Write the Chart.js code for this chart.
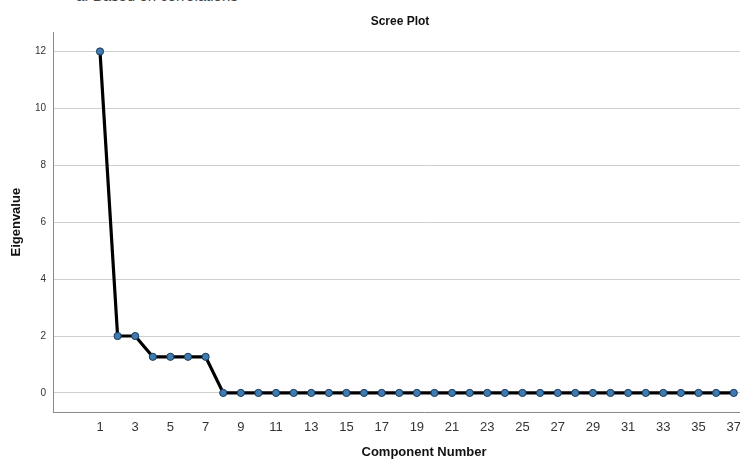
<!DOCTYPE html>
<html lang="en">
<head>
    <meta charset="UTF-8">
    <title>Scree Plot</title>
    <script src="https://cdn.jsdelivr.net/npm/chart.js"></script>
    <style>
        html, body { margin: 0; padding: 0; background: #fff; overflow: hidden; }
        .pagina { position: relative; width: 740px; height: 464px; overflow: hidden; }
        .nota { position: absolute; left: 76px; top: -12px; font: 15px Arial, "Liberation Sans", sans-serif; color: #444; line-height: 15px; white-space: nowrap; }
        .grafico { position: absolute; left: 0; top: 0; width: 800px; height: 464px; }
    </style>
</head>
<body>
<div class="pagina">
    <div class="nota">a. Based on correlations</div>
    <div class="grafico"><canvas id="scree"></canvas></div>
</div>
<script>
    // dados
    var componentes = [];
    for (var c = 1; c <= 37; c++) componentes.push(c);
    var autovalores = [12, 2, 2, 1.27, 1.27, 1.27, 1.27,
        0, 0, 0, 0, 0, 0, 0, 0, 0, 0,
        0, 0, 0, 0, 0, 0, 0, 0, 0, 0,
        0, 0, 0, 0, 0, 0, 0, 0, 0, 0];
    var ticksX = [1, 3, 5, 7, 9, 11, 13, 15, 17, 19, 21, 23, 25, 27, 29, 31, 33, 35, 37];
    var ticksY = [0, 2, 4, 6, 8, 10, 12];

    var fonte = 'Arial, "Liberation Sans", sans-serif';

    var pontos = componentes.map(function (c, i) {
        return { x: c, y: autovalores[i] };
    });

    new Chart(document.getElementById('scree'), {
        type: 'line',
        data: {
            datasets: [{
                label: 'Eigenvalue',
                data: pontos,
                borderColor: '#000',
                borderWidth: 3.2,
                tension: 0,
                pointRadius: 3.6,
                pointBackgroundColor: '#3d7bb2',
                pointBorderColor: '#1c3a57',
                pointBorderWidth: 1,
                fill: false
            }]
        },
        options: {
            responsive: true,
            maintainAspectRatio: false,
            animation: false,
            layout: { padding: 0 },
            plugins: {
                legend: { display: false },
                tooltip: { enabled: false },
                title: {
                    display: true,
                    text: 'Scree Plot',
                    color: '#111',
                    font: { family: fonte, size: 12, weight: 'bold' },
                    padding: { top: 14, bottom: 4 }
                }
            },
            scales: {
                x: {
                    type: 'linear',
                    min: -1.67,
                    max: 40.48,
                    afterBuildTicks: function (s) {
                        s.ticks = ticksX.map(function (v) { return { value: v }; });
                    },
                    afterFit: function (s) { s.height = 52; },
                    grid: { display: false, drawTicks: false },
                    border: { display: true, color: '#8a8a8a', width: 1 },
                    ticks: {
                        color: '#333',
                        font: { family: fonte, size: 13 },
                        padding: 8,
                        maxRotation: 0,
                        autoSkip: false
                    },
                    title: {
                        display: true,
                        text: 'Component Number',
                        color: '#111',
                        font: { family: fonte, size: 13, weight: 'bold' },
                        padding: { top: 6 }
                    }
                },
                y: {
                    min: -0.67,
                    max: 12.67,
                    afterBuildTicks: function (s) {
                        s.ticks = ticksY.map(function (v) { return { value: v }; });
                    },
                    afterFit: function (s) { s.width = 53; },
                    grid: { color: '#cfcfcf', lineWidth: 1, drawTicks: false },
                    border: { display: true, color: '#8a8a8a', width: 1 },
                    ticks: {
                        color: '#333',
                        font: { family: fonte, size: 10 },
                        padding: 7
                    },
                    title: {
                        display: true,
                        text: 'Eigenvalue',
                        color: '#111',
                        font: { family: fonte, size: 13, weight: 'bold' },
                        padding: { top: 9, bottom: 0 }
                    }
                }
            }
        }
    });
</script>
</body>
</html>
